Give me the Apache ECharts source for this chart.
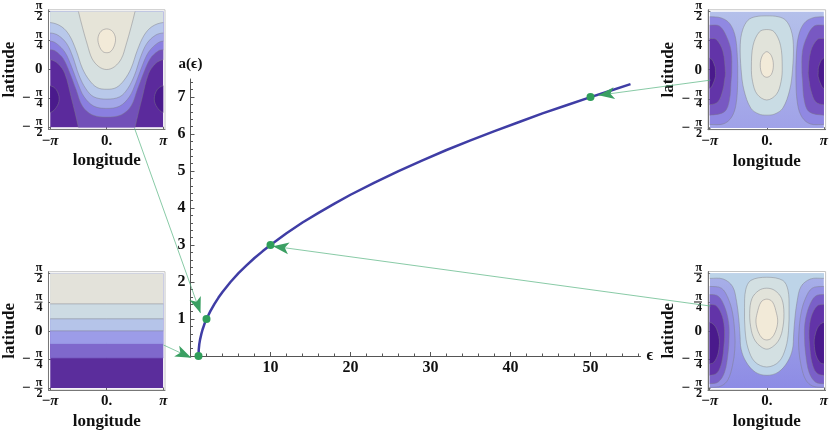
<!DOCTYPE html>
<html>
<head>
<meta charset="utf-8">
<title>a(epsilon)</title>
<script src="https://cdn.jsdelivr.net/npm/echarts@6/dist/echarts.min.js"></script>
<style>
  html, body { margin: 0; padding: 0; background: #fff; }
  #chart { width: 831px; height: 431px; }
</style>
</head>
<body>
<div id="chart"></div>
<script>
// main curve
const epsValues = [1, 1.03, 1.1, 1.2, 1.35, 1.5, 1.75, 2, 2.5, 3, 3.5, 4, 5, 6, 7, 8, 9, 10, 12, 14, 16, 18, 20, 23, 26, 29, 32, 35, 38, 41, 44, 47, 50, 52, 55];
const aValues = [0, 0.17, 0.32, 0.45, 0.59, 0.71, 0.87, 1, 1.22, 1.41, 1.58, 1.73, 2, 2.24, 2.45, 2.65, 2.83, 3, 3.32, 3.61, 3.87, 4.12, 4.36, 4.69, 5, 5.29, 5.57, 5.83, 6.08, 6.32, 6.56, 6.78, 7, 7.14, 7.35];
const markedPoints = [[1, 0], [2, 1], [10, 3], [50, 7]];

// arrows: tail x, tail y, tip x, tip y in the units of the main axes
const arrowRows = [
  [-7, 6.16, 1.25, 1.16],
  [-3.4, 0.3, 0.09, -0.05],
  [65, 1.35, 10.3, 2.97],
  [65, 7.46, 51, 7.05]
];

const xMajorTicks = [10, 20, 30, 40, 50];
const xMinorTicks = [2, 4, 6, 8, 12, 14, 16, 18, 22, 24, 26, 28, 32, 34, 36, 38, 42, 44, 46, 48, 52, 54, 56];
const yMajorTicks = [1, 2, 3, 4, 5, 6, 7];
const yMinorTicks = [0.2, 0.4, 0.6, 0.8, 1.2, 1.4, 1.6, 1.8, 2.2, 2.4, 2.6, 2.8, 3.2, 3.4, 3.6, 3.8, 4.2, 4.4, 4.6, 4.8, 5.2, 5.4, 5.6, 5.8, 6.2, 6.4, 6.6, 6.8, 7.2, 7.4];

// inset axes: longitude in units of pi, latitude in units of pi/2
const lonTicks = [-1, 0, 1];
const lonLabels = ['−{i|π}', '0.', '{i|π}'];
const latTicks = [-1, -0.5, 0, 0.5, 1];
const latLabels = [
  '{f|π}\n{m|−}{b|}\n{f|2}',
  '{f|π}\n{m|−}{b|}\n{f|4}',
  '{z|0}',
  '{f|π}\n{b|}\n{f|4}',
  '{f|π}\n{b|}\n{f|2}'
];

// contours, [lon, lat], right half only, the left half is its mirror
const tlValleyF = [[0, -1.3], [0.45, -1.3], [0.5, -1], [0.63, -0.47], [0.74, -0.07], [0.86, 0.1], [1, 0.17]];
const tlValleyE = [[0, -0.82], [0.26, -0.78], [0.43, -0.63], [0.54, -0.35], [0.66, -0.04], [0.77, 0.19], [0.91, 0.32], [1, 0.34]];
const tlValleyD = [[0, -0.67], [0.23, -0.63], [0.4, -0.47], [0.51, -0.24], [0.63, 0.07], [0.74, 0.3], [0.89, 0.45], [1, 0.49]];
const tlValleyC = [[0, -0.51], [0.23, -0.47], [0.37, -0.33], [0.49, -0.1], [0.6, 0.22], [0.71, 0.45], [0.86, 0.59], [1, 0.63]];
const tlValleyB = [[0, -0.34], [0.17, -0.31], [0.31, -0.18], [0.43, 0.02], [0.54, 0.33], [0.66, 0.59], [0.8, 0.74], [1, 0.81]];
const tlValleyA = [[0, 0], [0.14, 0.05], [0.26, 0.19], [0.34, 0.42], [0.43, 0.73], [0.5, 1], [0.55, 1.25]];
const tlBlob = [[0, 0.7], [0.1, 0.66], [0.155, 0.54], [0.13, 0.4], [0.07, 0.31], [0, 0.29]];
const tlLobe = [[1, -0.28], [0.89, -0.35], [0.84, -0.51], [0.89, -0.65], [1, -0.74]];

const blBand1 = [[0, -0.47], [1, -0.47]];
const blBand2 = [[0, -0.22], [1, -0.22]];
const blBand3 = [[0, 0], [1, 0]];
const blBand4 = [[0, 0.21], [1, 0.21]];
const blBand5 = [[0, 0.47], [1, 0.47]];

const trCenter3 = [[0, 0.925], [0.2, 0.91], [0.33, 0.85], [0.425, 0.68], [0.465, 0.43], [0.45, 0], [0.4, -0.35], [0.28, -0.66], [0.14, -0.76], [0, -0.78]];
const trCenter2 = [[0, 0.69], [0.13, 0.65], [0.24, 0.42], [0.27, 0.05], [0.25, -0.2], [0.17, -0.42], [0, -0.52]];
const trCenter1 = [[0, 0.31], [0.08, 0.24], [0.115, 0.08], [0.08, -0.08], [0, -0.13]];
const trLobe1 = [[1, 0.91], [0.8, 0.89], [0.655, 0.8], [0.56, 0.6], [0.52, 0.3], [0.51, -0.18], [0.54, -0.6], [0.62, -0.82], [0.76, -0.93], [1, -0.94]];
const trLobe2 = [[1, 0.765], [0.83, 0.75], [0.71, 0.58], [0.625, 0.32], [0.615, -0.05], [0.625, -0.18], [0.655, -0.52], [0.74, -0.72], [1, -0.78]];
const trLobe3 = [[1, 0.535], [0.885, 0.52], [0.77, 0.32], [0.725, -0.05], [0.74, -0.18], [0.77, -0.35], [0.855, -0.55], [1, -0.6]];
const trLobe4 = [[1, 0.2], [0.91, 0.06], [0.9, -0.05], [0.9, -0.12], [0.95, -0.26], [1, -0.32]];

const brValley = [[0, -0.775], [0.2, -0.72], [0.36, -0.545], [0.45, -0.32], [0.47, -0.06], [0.49, 0.2], [0.53, 0.51], [0.6, 0.77], [0.765, 0.9], [1, 0.91]];
const brCenter3 = [[0, 0.93], [0.28, 0.875], [0.37, 0.71], [0.39, 0.4], [0.38, 0], [0.33, -0.3], [0.21, -0.54], [0, -0.63]];
const brCenter2 = [[0, 0.74], [0.14, 0.7], [0.26, 0.56], [0.3, 0.3], [0.27, 0], [0.2, -0.18], [0.1, -0.28], [0, -0.32]];
const brCenter1 = [[0, 0.55], [0.1, 0.5], [0.17, 0.3], [0.19, 0.15], [0.15, -0.02], [0.08, -0.13], [0, -0.16]];
const brLobe1 = [[1, 0.77], [0.795, 0.74], [0.68, 0.57], [0.6, 0.31], [0.56, -0.06], [0.56, -0.32], [0.6, -0.6], [0.68, -0.85], [0.8, -0.96], [1, -0.985]];
const brLobe2 = [[1, 0.63], [0.85, 0.6], [0.74, 0.42], [0.67, 0.15], [0.66, -0.1], [0.68, -0.4], [0.74, -0.72], [0.85, -0.89], [1, -0.92]];
const brLobe3 = [[1, 0.455], [0.88, 0.43], [0.78, 0.25], [0.74, 0], [0.75, -0.25], [0.79, -0.55], [0.87, -0.73], [1, -0.775]];
const brLobe4 = [[1, 0.145], [0.9, 0.07], [0.84, -0.1], [0.83, -0.22], [0.86, -0.42], [0.93, -0.55], [1, -0.575]];

const serif = '"Liberation Serif", "DejaVu Serif", serif';
const lineColor = 'rgba(125,125,135,0.65)';
const grad = (a, b) => new echarts.graphic.LinearGradient(0, 0, 0, 1, [{ offset: 0, color: a }, { offset: 1, color: b }]);

// kind: above = area over a valley curve, closed = centre blob, lobe = both side edges
const insets = [
  {
    left: 45, top: 9.3, base: '#5b2a9c', layers: [
      ['above', tlValleyF, '#7250b8'], ['above', tlValleyE, '#8a7fe0'], ['above', tlValleyD, '#a3a8e8'],
      ['above', tlValleyC, '#b8c8ea'], ['above', tlValleyB, '#d6e0e0'], ['above', tlValleyA, '#e6e4d8'],
      ['closed', tlBlob, '#f2ead8'], ['lobe', tlLobe, '#4a1a8c']
    ]
  },
  {
    left: 45, top: 271.7, base: '#5b2d9c', layers: [
      ['above', blBand1, '#7f68cc', true], ['above', blBand2, '#9c9ce8', true], ['above', blBand3, '#b5c4e9'],
      ['above', blBand4, '#cddbe3'], ['above', blBand5, '#e3e2da']
    ]
  },
  {
    left: 708, top: 9.7, base: grad('#b4c0ea', '#a0a2e8'), layers: [
      ['closed', trCenter3, '#c9dce4'], ['closed', trCenter2, '#e1e3da'], ['closed', trCenter1, '#f2ead8'],
      ['lobe', trLobe1, '#9088e2'], ['lobe', trLobe2, '#7858c2'], ['lobe', trLobe3, '#6234a8'], ['lobe', trLobe4, '#4a1a8c']
    ]
  },
  {
    left: 708, top: 271.5, base: grad('#a8b0e8', '#8d8be5'), layers: [
      ['above', brValley, '#bdd4e8'], ['closed', brCenter3, '#d3e0e2'], ['closed', brCenter2, '#e2e3da'], ['closed', brCenter1, '#f2ead8'],
      ['lobe', brLobe1, '#9490e2'], ['lobe', brLobe2, '#7a60c8'], ['lobe', brLobe3, '#6234a8'], ['lobe', brLobe4, '#4a1a8c']
    ]
  }
];

function layerRings(kind, curve) {
  const mirrored = curve.map(p => [-p[0], p[1]]).reverse();
  if (kind === 'above') {
    const endLat = curve[curve.length - 1][1];
    return [mirrored.slice(0, -1).concat(curve, [[1.5, endLat], [1.5, 1.8], [-1.5, 1.8], [-1.5, endLat]])];
  }
  if (kind === 'closed') {
    return [curve.concat(mirrored.slice(1, -1))];
  }
  const right = [[1.5, curve[0][1]]].concat(curve, [[1.5, curve[curve.length - 1][1]]]);
  return [right, right.map(p => [-p[0], p[1]])];
}

function insetRenderer(inset) {
  return function (params, api) {
    const topLeft = api.coord([-1, 1]);
    const bottomRight = api.coord([1, -1]);
    const toPixels = ring => ring.map(p => api.coord(p));
    let children = [{
      type: 'rect',
      shape: { x: topLeft[0], y: topLeft[1], width: bottomRight[0] - topLeft[0], height: bottomRight[1] - topLeft[1] },
      style: { fill: inset.base }
    }];
    inset.layers.forEach(layer => {
      layerRings(layer[0], layer[1]).forEach(ring => {
        children.push({
          type: 'polygon',
          shape: { points: toPixels(ring), smooth: layer[1].length > 2 ? 0.35 : 0 },
          style: { fill: layer[2], stroke: layer[3] ? layer[2] : lineColor, lineWidth: 0.7 }
        });
      });
    });
    return {
      type: 'group',
      clipPath: {
        type: 'rect',
        shape: { x: topLeft[0], y: topLeft[1], width: bottomRight[0] - topLeft[0], height: bottomRight[1] - topLeft[1] }
      },
      children: children
    };
  };
}

function renderArrow(params, api) {
  const tail = api.coord([api.value(0), api.value(1)]);
  const tip = api.coord([api.value(2), api.value(3)]);
  const angle = Math.atan2(tip[1] - tail[1], tip[0] - tail[0]);
  const along = (d, side) => [
    tip[0] - d * Math.cos(angle) - side * Math.sin(angle),
    tip[1] - d * Math.sin(angle) + side * Math.cos(angle)
  ];
  return {
    type: 'group',
    children: [
      {
        type: 'line',
        shape: { x1: tail[0], y1: tail[1], x2: tip[0], y2: tip[1] },
        style: { stroke: '#55b380', lineWidth: 0.7 }
      },
      {
        type: 'polygon',
        shape: { points: [tip, along(16, 6), along(12, 0), along(16, -6)] },
        style: { fill: '#3a9f62' }
      }
    ]
  };
}

const grid = [{ left: 190.5, top: 79, width: 450, height: 277 }];
const xAxis = [
  {
    gridIndex: 0, type: 'value', min: 0, max: 56.25, name: 'ϵ', nameLocation: 'end', nameGap: 6,
    nameTextStyle: { fontFamily: serif, fontWeight: 'bold', fontSize: 16, color: '#111' },
    splitLine: { show: false },
    axisLine: { lineStyle: { color: '#555', width: 1 } },
    axisTick: { inside: true, length: 4, lineStyle: { color: '#555' }, customValues: xMajorTicks },
    axisLabel: { customValues: xMajorTicks, margin: 4, fontFamily: serif, fontWeight: 'bold', fontSize: 16, color: '#111' }
  },
  {
    gridIndex: 0, type: 'value', min: 0, max: 56.25, position: 'bottom',
    splitLine: { show: false }, axisLine: { show: false }, axisLabel: { show: false },
    axisTick: { inside: true, length: 2.5, lineStyle: { color: '#555' }, customValues: xMinorTicks }
  }
];
const yAxis = [
  {
    gridIndex: 0, type: 'value', min: 0, max: 7.49, name: 'a(ϵ)', nameLocation: 'end', nameGap: 7,
    nameTextStyle: { fontFamily: serif, fontWeight: 'bold', fontSize: 15, color: '#111' },
    splitLine: { show: false },
    axisLine: { lineStyle: { color: '#555', width: 1 } },
    axisTick: { inside: true, length: 4, lineStyle: { color: '#555' }, customValues: yMajorTicks },
    axisLabel: { customValues: yMajorTicks, margin: 5, fontFamily: serif, fontWeight: 'bold', fontSize: 16, color: '#111' }
  },
  {
    gridIndex: 0, type: 'value', min: 0, max: 7.49, position: 'left',
    splitLine: { show: false }, axisLine: { show: false }, axisLabel: { show: false },
    axisTick: { inside: true, length: 2.5, lineStyle: { color: '#555' }, customValues: yMinorTicks }
  }
];
const series = [
  {
    type: 'line', xAxisIndex: 0, yAxisIndex: 0, showSymbol: false, clip: false, z: 5,
    lineStyle: { color: '#3f3da5', width: 2.5 },
    data: epsValues.map((e, i) => [e, aValues[i]])
  },
  {
    type: 'custom', xAxisIndex: 0, yAxisIndex: 0, clip: false, z: 8, silent: true,
    encode: { x: [0, 2], y: [1, 3] }, renderItem: renderArrow, data: arrowRows
  },
  {
    type: 'scatter', xAxisIndex: 0, yAxisIndex: 0, symbolSize: 8, clip: false, z: 9,
    itemStyle: { color: '#2f9e5a', opacity: 1 }, data: markedPoints
  }
];

insets.forEach(inset => {
  const index = grid.length;
  grid.push({
    left: inset.left, top: inset.top, width: 120, height: 120,
    show: true, borderColor: '#c4c4c4', borderWidth: 1, backgroundColor: '#fff'
  });
  xAxis.push({
    gridIndex: index, type: 'value', min: -1.03, max: 1.03, name: 'longitude', nameLocation: 'middle', nameGap: 23,
    nameTextStyle: { fontFamily: serif, fontWeight: 'bold', fontSize: 17, color: '#111' },
    splitLine: { show: false },
    axisLine: { onZero: false, lineStyle: { color: '#777', width: 1 } },
    axisTick: { inside: true, length: 2.5, lineStyle: { color: '#666' }, customValues: lonTicks },
    axisLabel: {
      customValues: lonTicks, margin: 4, fontFamily: serif, fontWeight: 'bold', fontSize: 15, color: '#111',
      showMinLabel: true, showMaxLabel: true,
      formatter: v => lonLabels[lonTicks.indexOf(v)],
      rich: { i: { fontFamily: serif, fontWeight: 'bold', fontStyle: 'italic', fontSize: 15, color: '#111' } }
    }
  });
  yAxis.push({
    gridIndex: index, type: 'value', min: -1.03, max: 1.03, name: 'latitude', nameLocation: 'middle', nameGap: 30,
    nameTextStyle: { fontFamily: serif, fontWeight: 'bold', fontSize: 17, color: '#111' },
    splitLine: { show: false },
    axisLine: { onZero: false, lineStyle: { color: '#777', width: 1 } },
    axisTick: { inside: true, length: 2.5, lineStyle: { color: '#666' }, customValues: latTicks },
    axisLabel: {
      customValues: latTicks, margin: 6, align: 'right',
      showMinLabel: true, showMaxLabel: true,
      formatter: v => latLabels[latTicks.indexOf(v)],
      rich: {
        f: { fontFamily: serif, fontWeight: 'bold', fontSize: 12, color: '#111', lineHeight: 9, align: 'right' },
        m: { fontFamily: serif, fontWeight: 'bold', fontSize: 15, color: '#111', lineHeight: 2, padding: [0, 4, 0, 0], align: 'right' },
        b: { width: 8, height: 1, backgroundColor: '#111', lineHeight: 2, align: 'right' },
        z: { fontFamily: serif, fontWeight: 'bold', fontSize: 15, color: '#111', align: 'right' }
      }
    }
  });
  series.push({
    type: 'custom', xAxisIndex: xAxis.length - 1, yAxisIndex: yAxis.length - 1, silent: true, z: 1,
    encode: { x: 0, y: 1 }, renderItem: insetRenderer(inset), data: [[0, 0]]
  });
});

const chart = echarts.init(document.getElementById('chart'));
chart.setOption({
  backgroundColor: '#fff',
  animation: false,
  grid: grid,
  xAxis: xAxis,
  yAxis: yAxis,
  series: series
});
</script>
</body>
</html>
